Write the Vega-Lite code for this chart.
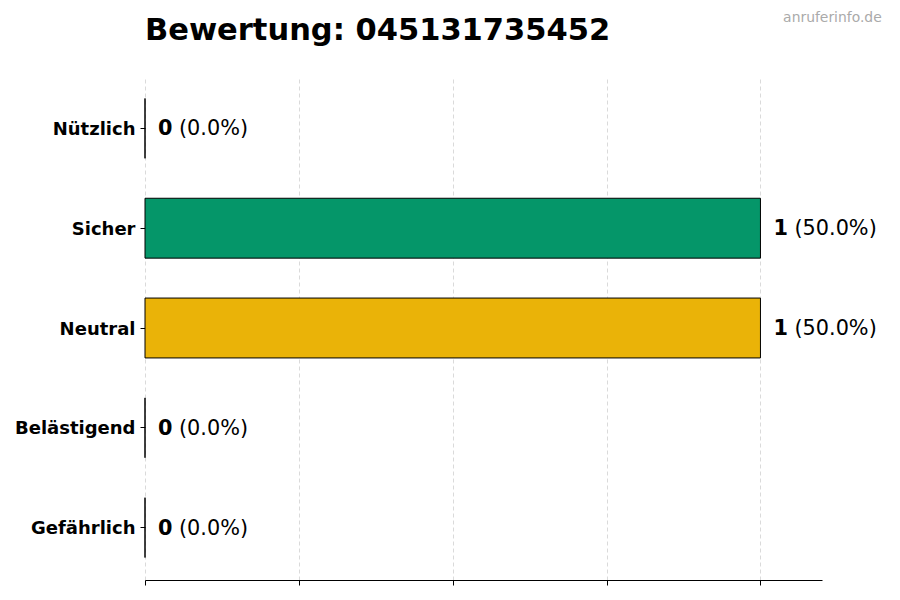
{
  "$schema": "https://vega.github.io/schema/vega-lite/v6.json",
  "width": 677,
  "height": 504,
  "autosize": "none",
  "padding": {"left": 145, "top": 76, "right": 78, "bottom": 20},
  "background": "white",
  "config": {"view": {"stroke": null}},
  "data": {
    "values": [
      {"kategorie": "Nützlich", "anzahl": 0, "prozent": "(0.0%)"},
      {"kategorie": "Sicher", "anzahl": 1, "prozent": "(50.0%)"},
      {"kategorie": "Neutral", "anzahl": 1, "prozent": "(50.0%)"},
      {"kategorie": "Belästigend", "anzahl": 0, "prozent": "(0.0%)"},
      {"kategorie": "Gefährlich", "anzahl": 0, "prozent": "(0.0%)"}
    ]
  },
  "layer": [
    {
      "encoding": {
        "y": {
          "field": "kategorie",
          "type": "nominal",
          "sort": null,
          "scale": {"paddingInner": 0.4, "paddingOuter": 0.225},
          "axis": {
            "title": null,
            "domain": false,
            "ticks": true,
            "tickSize": 5,
            "tickColor": "black",
            "labelPadding": 5,
            "labelOffset": 1.5,
            "labelFont": "DejaVu Sans",
            "labelFontSize": 18,
            "labelFontWeight": "bold",
            "labelColor": "black",
            "grid": false
          }
        },
        "x": {
          "field": "anzahl",
          "type": "quantitative",
          "scale": {"domain": [0, 1.1], "nice": false, "zero": true},
          "axis": {
            "title": null,
            "values": [0, 0.25, 0.5, 0.75, 1],
            "labels": false,
            "domainColor": "black",
            "domainWidth": 1.2,
            "tickColor": "black",
            "tickSize": 5,
            "grid": true,
            "gridColor": "#d0d0d0",
            "gridDash": [4, 3],
            "gridWidth": 0.8
          }
        }
      },
      "layer": [
        {
          "mark": {"type": "bar", "stroke": "black", "strokeWidth": 1, "cornerRadius": 0},
          "encoding": {
            "color": {
              "field": "kategorie",
              "type": "nominal",
              "legend": null,
              "scale": {
                "domain": ["Nützlich", "Sicher", "Neutral", "Belästigend", "Gefährlich"],
                "range": ["#2563eb", "#059669", "#eab308", "#f97316", "#dc2626"]
              }
            }
          }
        },
        {
          "mark": {"type": "text", "align": "left", "baseline": "middle", "dx": 13, "dy": 1, "font": "DejaVu Sans", "fontSize": 20.8, "fontWeight": "bold", "color": "black"},
          "encoding": {"text": {"field": "anzahl", "type": "quantitative"}}
        },
        {
          "mark": {"type": "text", "align": "left", "baseline": "middle", "dx": 34, "dy": 1, "font": "DejaVu Sans", "fontSize": 20.8, "color": "black"},
          "encoding": {"text": {"field": "prozent", "type": "nominal"}}
        }
      ]
    },
    {
      "data": {"values": [{"titel": "Bewertung: 045131735452", "pos": 0}]},
      "mark": {"type": "text", "align": "left", "baseline": "alphabetic", "font": "DejaVu Sans", "fontSize": 30.5, "fontWeight": "bold", "color": "black"},
      "encoding": {
        "x": {"field": "pos", "type": "quantitative"},
        "y": {"value": -36},
        "text": {"field": "titel", "type": "nominal"}
      }
    },
    {
      "data": {"values": [{"quelle": "anruferinfo.de", "pos": 1.197}]},
      "mark": {"type": "text", "align": "right", "baseline": "middle", "font": "DejaVu Sans", "fontSize": 13.9, "color": "#aaaaaa"},
      "encoding": {
        "x": {"field": "pos", "type": "quantitative"},
        "y": {"value": -58},
        "text": {"field": "quelle", "type": "nominal"}
      }
    }
  ]
}
